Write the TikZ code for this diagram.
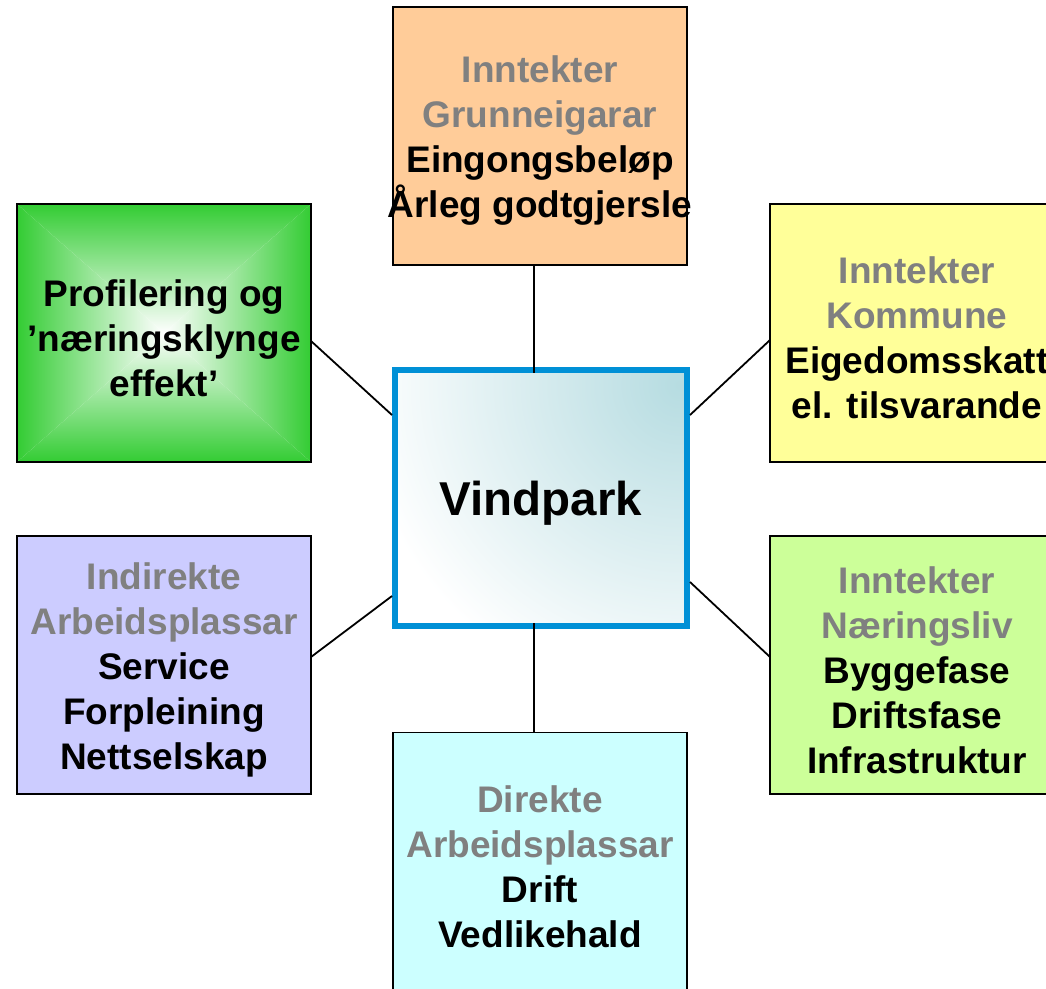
\documentclass[tikz,border=0pt]{standalone}
\usepackage{fontspec}
\setmainfont{Liberation Sans}
\definecolor{boxorange}{HTML}{FFCC99}
\definecolor{boxyellow}{HTML}{FFFF99}
\definecolor{boxlav}{HTML}{CCCCFF}
\definecolor{boxlgreen}{HTML}{CCFF99}
\definecolor{boxcyan}{HTML}{CCFFFF}
\definecolor{boxgreen}{HTML}{33CC33}
\definecolor{greytxt}{HTML}{808080}
\definecolor{vpblue}{RGB}{0,144,214}
\definecolor{vpteal}{RGB}{182,220,225}
\tikzset{
  box/.style={draw=black, line width=1.8pt, rectangle, outer sep=0pt, inner sep=0pt,
    minimum width=294pt, minimum height=258pt},
  txt/.style={align=center, inner sep=0pt, yshift=-5pt, font=\bfseries\fontsize{37}{45}\selectfont, text=black},
  conn/.style={draw=black, line width=1.8pt},
  gr/.style={text=greytxt}
}
\begin{document}
\begin{tikzpicture}[x=1pt,y=-1pt]
\useasboundingbox (0,0) rectangle (1046,988);
\clip (0,0) rectangle (1046,988);

% boxes
\node[box, fill=boxorange] (top) at (540,136) {};
\node[box, fill=boxyellow] (yel) at (917,333) {};
\node[box, fill=boxlav] (lav) at (164,665) {};
\node[box, fill=boxlgreen] (rgr) at (917,665) {};
\node[box, fill=boxcyan] (bot) at (540,861.5) {};
\node[box, draw=none] (grn) at (164,333) {};

% green box: rectangular gradient (four triangles)
\begin{scope}
  \clip (grn.north west) -- (grn.north east) -- (grn.center) -- cycle;
  \shade[top color=boxgreen, middle color=boxgreen!55!white, bottom color=white] (grn.north west) rectangle (grn.east);
\end{scope}
\begin{scope}
  \clip (grn.south west) -- (grn.south east) -- (grn.center) -- cycle;
  \shade[top color=white, middle color=boxgreen!55!white, bottom color=boxgreen] (grn.west) rectangle (grn.south east);
\end{scope}
\begin{scope}
  \clip (grn.north west) -- (grn.south west) -- (grn.center) -- cycle;
  \shade[left color=boxgreen, middle color=boxgreen!55!white, right color=white] (grn.north west) rectangle (grn.south);
\end{scope}
\begin{scope}
  \clip (grn.north east) -- (grn.south east) -- (grn.center) -- cycle;
  \shade[left color=white, middle color=boxgreen!55!white, right color=boxgreen] (grn.north) rectangle (grn.south east);
\end{scope}
\draw[line width=1.8pt] (grn.north west) rectangle (grn.south east);

% centre box
\node[rectangle, outer sep=0pt, inner sep=0pt, minimum width=292pt, minimum height=256pt] (vp) at (541,498) {};
\begin{scope}
  \clip (vp.north west) rectangle (vp.south east);
  \fill[white] (vp.north west) rectangle (vp.south east);
  \shade[inner color=vpteal, outer color=white] (680,385) circle (320);
\end{scope}
\draw[vpblue, line width=6pt] (vp.north west) rectangle (vp.south east);

% connectors
\draw[conn] ([xshift=-6pt]top.south) -- ([xshift=-7pt,yshift=-3pt]vp.north);
\draw[conn] ([xshift=-6pt]bot.north) -- ([xshift=-7pt,yshift=3pt]vp.south);
\draw[conn] ([yshift=-8pt]grn.east) -- ([xshift=-3pt,yshift=83pt]vp.west);
\draw[conn] ([yshift=-7pt]yel.west) -- ([xshift=3pt,yshift=83pt]vp.east);
\draw[conn] ([yshift=8pt]lav.east) -- ([xshift=-3pt,yshift=-98pt]vp.west);
\draw[conn] ([yshift=8pt]rgr.west) -- ([xshift=3pt,yshift=-84pt]vp.east);

% texts
\node[txt] (ttop) at (top) {\textcolor{greytxt}{Inntekter}\\\textcolor{greytxt}{Grunneigarar}\\Eingongsbeløp\\Årleg godtgjersle};
\node[txt] (tyel) at (yel) {\textcolor{greytxt}{Inntekter}\\\textcolor{greytxt}{Kommune}\\Eigedomsskatt\\el. tilsvarande};
\node[txt] (tgrn) at (grn) {Profilering og\\’næringsklynge\\effekt’};
\node[txt] (tlav) at (lav) {\textcolor{greytxt}{Indirekte}\\\textcolor{greytxt}{Arbeidsplassar}\\Service\\Forpleining\\Nettselskap};
\node[txt] (trgr) at (rgr) {\textcolor{greytxt}{Inntekter}\\\textcolor{greytxt}{Næringsliv}\\Byggefase\\Driftsfase\\Infrastruktur};
\node[txt] (tbot) at (bot) {\textcolor{greytxt}{Direkte}\\\textcolor{greytxt}{Arbeidsplassar}\\Drift\\Vedlikehald};
\node[txt, font=\bfseries\fontsize{47.5}{55}\selectfont] (tvp) at (vp) {Vindpark};
\end{tikzpicture}
\end{document}
